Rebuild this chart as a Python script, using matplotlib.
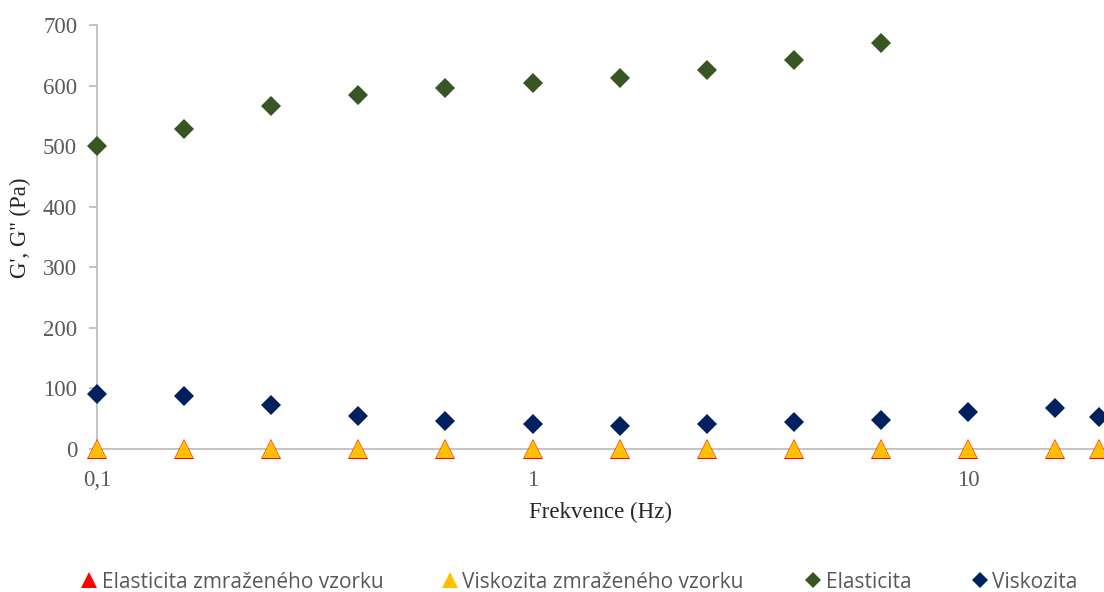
import matplotlib
matplotlib.use("Agg")
import matplotlib.pyplot as plt
from matplotlib.lines import Line2D
from matplotlib.ticker import FixedLocator, FixedFormatter, NullLocator

# Frequency sweep (Hz)
freq = [0.1, 0.158, 0.251, 0.398, 0.631, 1.0, 1.585, 2.512, 3.981, 6.31, 10.0, 15.85, 20.0]

# Storage / loss moduli (Pa)
elasticita = [500, 528, 566, 584, 596, 604, 612, 626, 642, 670]
viskozita = [91, 87, 73, 54, 46, 41, 38, 41, 45, 48, 61, 68, 53]
elasticita_zmraz = [0, 0, 0, 0, 0, 0, 0, 0, 0, 0, 0, 0, 0]
viskozita_zmraz = [0, 0, 0, 0, 0, 0, 0, 0, 0, 0, 0, 0, 0]

x_ticks = [0.1, 1, 10]
x_tick_labels = ["0,1", "1", "10"]
y_ticks = [0, 100, 200, 300, 400, 500, 600, 700]

labels = ["Elasticita zmraženého vzorku", "Viskozita zmraženého vzorku",
          "Elasticita", "Viskozita"]

GREEN = "#375623"
NAVY = "#002060"
RED = "#FF0000"
YELLOW = "#FFC000"
AXIS = "#BFBFBF"
TICKTXT = "#595959"
SERIF = "Liberation Serif"

W, H = 1104, 592
fig = plt.figure(figsize=(W / 100, H / 100), dpi=100)
ax = fig.add_axes([97 / W, 1 - 449 / H, 1 - 97 / W, (449 - 25) / H])

ax.set_xscale("log")
ax.set_xlim(0.1, 20.5)
ax.set_ylim(0, 700)

kw = dict(linestyle="none", clip_on=False)
ax.plot(freq[:len(elasticita)], elasticita, marker="D", markersize=10.5,
        color=GREEN, markeredgewidth=0, zorder=3, **kw)
ax.plot(freq, viskozita, marker="D", markersize=10.5,
        color=NAVY, markeredgewidth=0, zorder=3, **kw)
ax.plot(freq, elasticita_zmraz, marker="^", markersize=15,
        color=RED, markeredgewidth=0, zorder=4, **kw)
ax.plot(freq, viskozita_zmraz, marker="^", markersize=13.6,
        color=YELLOW, markeredgewidth=0, zorder=5, **kw)

for s in ["top", "right"]:
    ax.spines[s].set_visible(False)
for s in ["left", "bottom"]:
    ax.spines[s].set_color(AXIS)
    ax.spines[s].set_linewidth(1.3)

ax.xaxis.set_major_locator(FixedLocator(x_ticks))
ax.xaxis.set_major_formatter(FixedFormatter(x_tick_labels))
ax.xaxis.set_minor_locator(NullLocator())
ax.set_yticks(y_ticks)
ax.set_yticklabels([str(v) for v in y_ticks])

ax.tick_params(axis="x", length=0, pad=15, labelsize=16.5, labelcolor=TICKTXT)
ax.tick_params(axis="y", length=5.8, width=1.3, color=AXIS, pad=8.5,
               labelsize=16.5, labelcolor=TICKTXT)
for t in ax.get_xticklabels() + ax.get_yticklabels():
    t.set_fontfamily(SERIF)

ax.set_xlabel("Frekvence (Hz)", fontfamily=SERIF, fontsize=16.5,
              color="#262626", labelpad=8)
ax.set_ylabel("G', G'' (Pa)", fontfamily=SERIF, fontsize=16.5, color="#262626")
ax.yaxis.set_label_coords((31 - 97) / (W - 97), (449 - 228) / (449 - 25))

# Legend entries laid out individually along the bottom
markers = [("^", 11.5, RED), ("^", 11.5, YELLOW), ("D", 8.5, GREEN), ("D", 8.5, NAVY)]
marker_x = [89, 450, 813, 980]
fs = 15
for (m, ms, c), lab, mx in zip(markers, labels, marker_x):
    h = Line2D([], [], linestyle="none", marker=m, markersize=ms, color=c,
               markeredgewidth=0)
    handle_px = 0.6 * fs * 100 / 72
    leg = fig.legend([h], [lab], loc="center left",
                     bbox_to_anchor=((mx - handle_px / 2) / W, 1 - 582 / H),
                     frameon=False, borderpad=0, borderaxespad=0,
                     handlelength=0.6, handletextpad=0.3,
                     prop={"family": "Open Sans", "size": fs})
    for t in leg.get_texts():
        t.set_color(TICKTXT)

fig.savefig("out.png", dpi=100)
